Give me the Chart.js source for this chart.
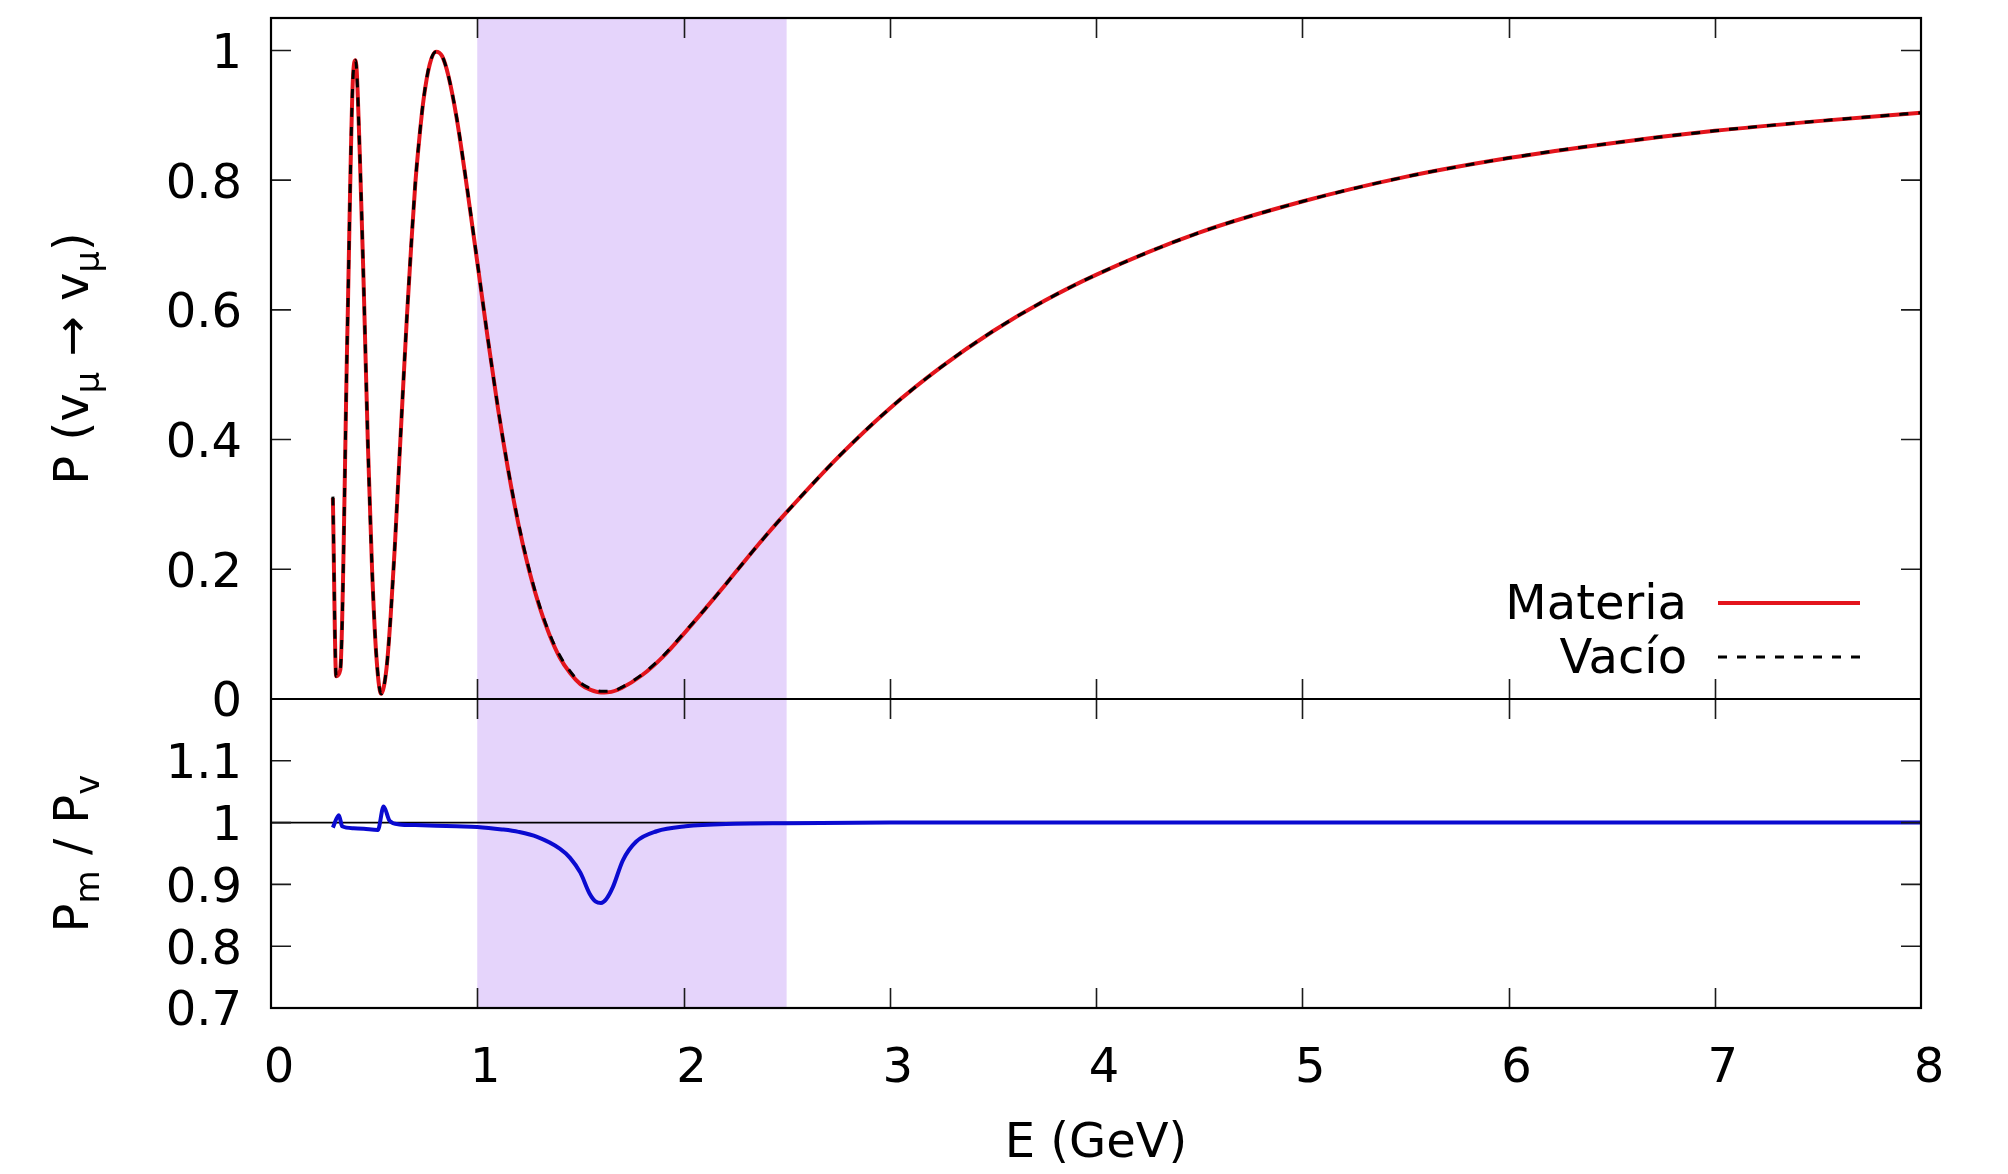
<!DOCTYPE html>
<html>
<head>
<meta charset="utf-8">
<script src="https://cdn.jsdelivr.net/npm/chart.js@4.4.1/dist/chart.umd.min.js"></script>
<style>
    html, body { margin: 0; padding: 0; background: #fff; }
</style>
</head>
<body>
<canvas id="chart" width="2008" height="1174"></canvas>
<script>
// Energy grid (GeV) for the survival probability curves
const energy = [0.300, 0.316, 0.336, 0.370, 0.397, 0.410, 0.430, 0.450, 0.470, 0.490,
    0.510, 0.534, 0.560, 0.580, 0.600, 0.620, 0.640, 0.660, 0.680, 0.700,
    0.720, 0.740, 0.770, 0.800, 0.830, 0.860, 0.900, 0.950, 1.00, 1.05,
    1.10, 1.15, 1.20, 1.25, 1.30, 1.35, 1.40, 1.45, 1.50, 1.55,
    1.60, 1.65, 1.70, 1.80, 1.90, 2.00, 2.10, 2.20, 2.30, 2.40,
    2.50, 2.75, 3.00, 3.25, 3.50, 3.75, 4.00, 4.50, 5.00, 5.50,
    6.00, 6.50, 7.00, 7.50, 8.00];

// P(nu_mu -> nu_mu) in matter
const pMatter = [0.310, 0.035, 0.045, 0.560, 0.955, 0.985, 0.845, 0.630, 0.390, 0.200,
    0.070, 0.008, 0.047, 0.127, 0.233, 0.355, 0.477, 0.595, 0.700, 0.796,
    0.867, 0.925, 0.979, 0.998, 0.991, 0.961, 0.896, 0.789, 0.674, 0.558,
    0.449, 0.353, 0.269, 0.200, 0.144, 0.099, 0.064, 0.040, 0.023, 0.014,
    0.010, 0.011, 0.017, 0.037, 0.065, 0.100, 0.137, 0.175, 0.214, 0.252,
    0.288, 0.373, 0.448, 0.512, 0.567, 0.614, 0.654, 0.719, 0.767, 0.805,
    0.834, 0.857, 0.876, 0.891, 0.904];

// P(nu_mu -> nu_mu) in vacuum
const pVacuum = [0.312, 0.035, 0.045, 0.561, 0.955, 0.985, 0.845, 0.631, 0.391, 0.201,
    0.071, 0.008, 0.047, 0.127, 0.234, 0.356, 0.478, 0.596, 0.701, 0.797,
    0.868, 0.926, 0.980, 0.998, 0.991, 0.961, 0.897, 0.790, 0.675, 0.559,
    0.450, 0.354, 0.271, 0.202, 0.146, 0.101, 0.067, 0.043, 0.025, 0.016,
    0.012, 0.012, 0.018, 0.038, 0.066, 0.101, 0.137, 0.175, 0.214, 0.252,
    0.288, 0.373, 0.448, 0.512, 0.567, 0.614, 0.654, 0.719, 0.767, 0.805,
    0.834, 0.857, 0.876, 0.891, 0.904];

// Ratio Pm / Pv
const ratioEnergy = [0.300, 0.329, 0.345, 0.400, 0.450, 0.518, 0.546, 0.575, 0.623, 0.700,
    0.800, 0.900, 1.000, 1.120, 1.200, 1.290, 1.400, 1.450, 1.500, 1.545,
    1.575, 1.600, 1.625, 1.658, 1.706, 1.770, 1.870, 2.010, 2.250, 2.500,
    3.000, 4.000, 6.000, 8.000];
const ratioValues = [0.992, 1.012, 0.994, 0.991, 0.990, 0.988, 1.026, 1.003, 0.997, 0.996,
    0.995, 0.994, 0.993, 0.989, 0.985, 0.977, 0.958, 0.943, 0.919, 0.885,
    0.872, 0.870, 0.876, 0.896, 0.939, 0.969, 0.986, 0.994, 0.998, 0.999,
    1.000, 1.000, 1.000, 1.000];

// Reference line at ratio = 1
const unityEnergy = [0, 8];
const unityValues = [1, 1];

// Shaded energy window
const bandRange = [1, 2.5];

const xTicks = [0, 1, 2, 3, 4, 5, 6, 7, 8];
const xTickLabels = ['0', '1', '2', '3', '4', '5', '6', '7', '8'];
const topTicks = [0, 0.2, 0.4, 0.6, 0.8, 1];
const topTickLabels = ['0', '0.2', '0.4', '0.6', '0.8', '1'];
const bottomTicks = [0.7, 0.8, 0.9, 1, 1.1];
const bottomTickLabels = ['0.7', '0.8', '0.9', '1', '1.1'];

const legendLabels = ['Materia', 'Vacío'];
const xTitle = 'E (GeV)';
const topTitle = [['P (v', false], ['μ', true], [' → v', false], ['μ', true], [')', false]];
const bottomTitle = [['P', false], ['m', true], [' / P', false], ['v', true]];

const FONT = '"DejaVu Sans"';
const FONT_SIZE = 48;
Chart.defaults.font.family = FONT;
Chart.defaults.color = '#000';

function toPoints(xs, ys) {
    return xs.map((x, i) => ({ x: x, y: ys[i] }));
}

function drawVerticalTitle(ctx, parts, baseX, centerY) {
    ctx.save();
    ctx.translate(baseX, centerY);
    ctx.rotate(-Math.PI / 2);
    ctx.fillStyle = '#000';
    ctx.textAlign = 'left';
    ctx.textBaseline = 'alphabetic';
    let total = 0;
    parts.forEach(([text, sub]) => {
        ctx.font = (sub ? '34px ' : FONT_SIZE + 'px ') + FONT;
        total += ctx.measureText(text).width;
    });
    let x = -total / 2;
    parts.forEach(([text, sub]) => {
        ctx.font = (sub ? '34px ' : FONT_SIZE + 'px ') + FONT;
        ctx.fillText(text, x, sub ? 11 : 0);
        x += ctx.measureText(text).width;
    });
    ctx.restore();
}

// no auto padding from edge labels, fixed axis sizes
function fixWidth(s) {
    s.width = 271;
    s.paddingTop = 0;
    s.paddingBottom = 0;
}

const decorPlugin = {
    id: 'decor',
    beforeDatasetsDraw(chart) {
        const { ctx, chartArea, scales } = chart;
        const x0 = scales.x.getPixelForValue(bandRange[0]);
        const x1 = scales.x.getPixelForValue(bandRange[1]);
        ctx.save();
        ctx.fillStyle = '#e5d4fb';
        ctx.fillRect(x0, chartArea.top, x1 - x0, chartArea.bottom - chartArea.top);
        ctx.restore();
    },
    afterDatasetsDraw(chart) {
        const { ctx, chartArea, scales } = chart;
        const { left, right, top, bottom } = chartArea;
        const mid = scales.yTop.getPixelForValue(0);
        const tick = 20;

        ctx.save();
        ctx.strokeStyle = '#1a1a1a';
        ctx.lineWidth = 1.6;
        ctx.beginPath();
        xTicks.slice(1, -1).forEach(v => {
            const px = Math.round(scales.x.getPixelForValue(v)) + 0.5;
            ctx.moveTo(px, top); ctx.lineTo(px, top + tick);
            ctx.moveTo(px, mid - tick); ctx.lineTo(px, mid + tick);
            ctx.moveTo(px, bottom); ctx.lineTo(px, bottom - tick);
        });
        topTicks.slice(1).forEach(v => {
            const py = scales.yTop.getPixelForValue(v);
            ctx.moveTo(left, py); ctx.lineTo(left + tick, py);
            ctx.moveTo(right, py); ctx.lineTo(right - tick, py);
        });
        bottomTicks.slice(1).forEach(v => {
            const py = scales.yBottom.getPixelForValue(v);
            ctx.moveTo(left, py); ctx.lineTo(left + tick, py);
            ctx.moveTo(right, py); ctx.lineTo(right - tick, py);
        });
        ctx.stroke();

        // frame and panel divider
        ctx.strokeStyle = '#000';
        ctx.lineWidth = 2.2;
        ctx.strokeRect(left, top, right - left, bottom - top);
        ctx.beginPath();
        ctx.moveTo(left, mid); ctx.lineTo(right, mid);
        ctx.stroke();

        // legend: text on the left, sample line on the right
        const ds = chart.data.datasets;
        const rows = [[legendLabels[0], ds[1]], [legendLabels[1], ds[0]]];
        ctx.font = FONT_SIZE + 'px ' + FONT;
        ctx.fillStyle = '#000';
        ctx.textAlign = 'right';
        ctx.textBaseline = 'middle';
        rows.forEach(([label, d], i) => {
            const y = mid - 96 + i * 54;
            ctx.fillText(label, right - 234, y + 4);
            ctx.save();
            ctx.strokeStyle = d.borderColor;
            ctx.lineWidth = d.borderWidth;
            ctx.setLineDash(d.borderDash || []);
            ctx.beginPath();
            ctx.moveTo(right - 203, y); ctx.lineTo(right - 61, y);
            ctx.stroke();
            ctx.restore();
        });

        drawVerticalTitle(ctx, topTitle, 88, (top + mid) / 2);
        drawVerticalTitle(ctx, bottomTitle, 88, (mid + bottom) / 2);
        ctx.restore();
    }
};

const lineStyle = { showLine: true, pointRadius: 0, pointHoverRadius: 0, fill: false };

new Chart(document.getElementById('chart'), {
    type: 'scatter',
    data: {
        datasets: [
            Object.assign({
                label: legendLabels[1], data: toPoints(energy, pVacuum), yAxisID: 'yTop',
                borderColor: '#000', borderWidth: 3, borderDash: [9, 10], cubicInterpolationMode: 'monotone'
            }, lineStyle),
            Object.assign({
                label: legendLabels[0], data: toPoints(energy, pMatter), yAxisID: 'yTop',
                borderColor: '#e3141c', borderWidth: 4, cubicInterpolationMode: 'monotone'
            }, lineStyle),
            Object.assign({
                label: 'Pm/Pv', data: toPoints(ratioEnergy, ratioValues), yAxisID: 'yBottom',
                borderColor: '#0a0ad0', borderWidth: 4, cubicInterpolationMode: 'monotone'
            }, lineStyle),
            Object.assign({
                label: 'unity', data: toPoints(unityEnergy, unityValues), yAxisID: 'yBottom',
                borderColor: '#000', borderWidth: 1.8
            }, lineStyle)
        ]
    },
    options: {
        responsive: false,
        animation: false,
        events: [],
        layout: { padding: { top: 18, right: 87, left: 0, bottom: 0 } },
        plugins: { legend: { display: false }, tooltip: { enabled: false } },
        scales: {
            x: {
                type: 'linear', min: 0, max: 8,
                grid: { display: false }, border: { display: false },
                afterBuildTicks: s => { s.ticks = xTicks.map(v => ({ value: v })); },
                afterFit: s => { s.height = 166; s.paddingLeft = 0; s.paddingRight = 0; },
                ticks: {
                    autoSkip: false, maxRotation: 0, padding: 25, labelOffset: 8,
                    font: { size: FONT_SIZE },
                    callback: (v, i) => xTickLabels[i]
                },
                title: { display: true, text: xTitle, font: { size: FONT_SIZE }, padding: { top: 0, bottom: 1 } }
            },
            yTop: {
                type: 'linear', position: 'left', stack: 'panels', stackWeight: 681, weight: 2,
                min: 0, max: 1.05,
                grid: { display: false }, border: { display: false },
                afterBuildTicks: s => { s.ticks = topTicks.map(v => ({ value: v })); },
                afterFit: fixWidth,
                ticks: {
                    autoSkip: false, padding: 21, labelOffset: 5, font: { size: FONT_SIZE },
                    callback: (v, i) => topTickLabels[i]
                }
            },
            yBottom: {
                type: 'linear', position: 'left', stack: 'panels', stackWeight: 309, weight: 1,
                min: 0.7, max: 1.2,
                grid: { display: false }, border: { display: false },
                afterBuildTicks: s => { s.ticks = bottomTicks.map(v => ({ value: v })); },
                afterFit: fixWidth,
                ticks: {
                    autoSkip: false, padding: 21, labelOffset: 5, font: { size: FONT_SIZE },
                    callback: (v, i) => bottomTickLabels[i]
                }
            }
        }
    },
    plugins: [decorPlugin]
});
</script>
</body>
</html>
